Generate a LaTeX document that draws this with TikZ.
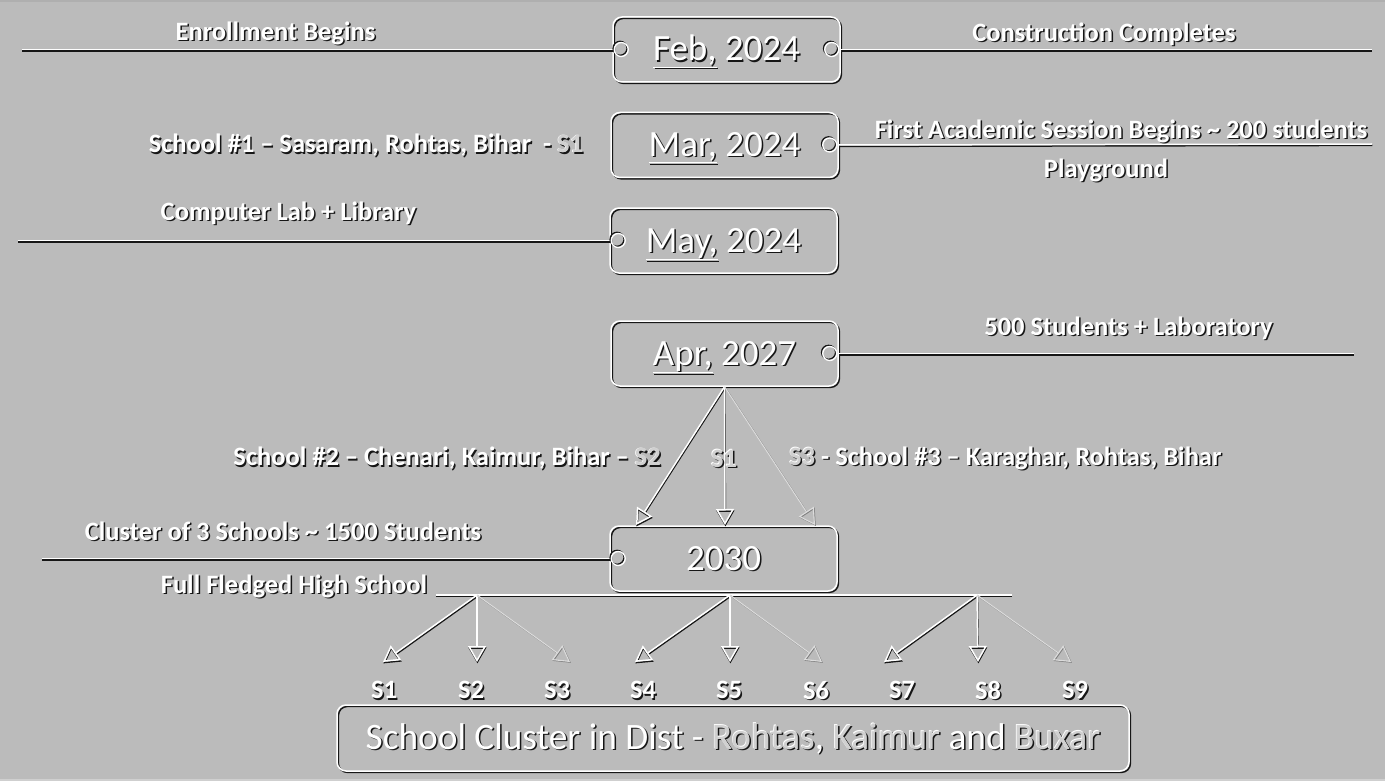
\documentclass[tikz,border=0pt]{standalone}
\usepackage{fontspec}
\setmainfont{Carlito}
\usetikzlibrary{arrows.meta}
\definecolor{bg}{HTML}{BBBBBB}
\definecolor{dk}{HTML}{161616}
\definecolor{lt}{HTML}{D0D0D0}
\definecolor{topc}{HTML}{AFAFAF}
\definecolor{botc}{HTML}{CFCFCF}
\definecolor{faint}{HTML}{DCDCDC}
\newcommand\emb[1]{\rlap{\kern1.5pt\raisebox{-1.5pt}{\color{dk}#1}}#1}
\newcommand\embc[2]{\rlap{\kern1.5pt\raisebox{-1.5pt}{\color{dk}#2}}\rlap{\kern-0.6pt\raisebox{0.6pt}{\color{white}#2}}{\color{#1}#2}}
\tikzset{
  lbl/.style={text=white, inner sep=0pt, font=\bfseries\fontsize{26.5}{30}\selectfont},
  datebox/.style={text=white, rounded corners=9pt, draw=white, line width=1.5pt,
    minimum width=227pt, minimum height=65pt, inner sep=0pt,
    text height=25pt, text depth=2pt,
    font=\fontsize{37}{42}\selectfont,
    preaction={draw=dk, line width=1.5pt, transform canvas={shift={(1.4pt,-1.4pt)}}}},
  port/.style={circle, draw=white, line width=1.3pt, minimum size=14pt, inner sep=0pt,
    preaction={draw=dk, line width=1.3pt, transform canvas={shift={(-1.2pt,1.2pt)}}}},
  ln/.style={draw=white, line width=1.5pt,
    preaction={draw=dk, line width=1.5pt, transform canvas={shift={(0.4pt,-1.4pt)}}}},
  arr/.style={ln, -{Triangle[open, length=16pt, width=18pt]}},
  arrf/.style={draw=faint, line width=1.1pt, -{Triangle[open, length=16pt, width=18pt]},
    preaction={draw=gray, line width=1.1pt, transform canvas={shift={(0.8pt,-0.8pt)}}}}
}
\begin{document}
\begin{tikzpicture}[x=1pt,y=-1pt]
\useasboundingbox (0,0) rectangle (1385,781);
\fill[bg] (0,0) rectangle (1385,781);
\fill[topc] (0,0) rectangle (1385,2.5);
\fill[botc] (0,778.5) rectangle (1385,781);

% date boxes
\node[datebox] (feb) at (726.5,49.5) {\emb{\underline{Feb,}}\ \emb{2024}};
\node[datebox] (mar) at (724.5,145) {\emb{\underline{Mar,}}\ \emb{2024}};
\node[datebox] (may) at (723.5,240.5) {\emb{\underline{May,}}\ \emb{2024}};
\node[datebox] (apr) at (724.5,353.5) {\emb{\underline{Apr,}}\ \emb{2027}};
\node[datebox] (y2030) at (723.5,558.5) {\emb{2030}};
\node[datebox, minimum width=792pt, minimum height=66pt, text height=24pt, text depth=2pt,
  font=\fontsize{37.3}{42}\selectfont] (clu) at (733,738)
  {\emb{School Cluster in Dist -}\ \embc{lt}{Rohtas}\emb{,}\ \embc{lt}{Kaimur}\ \emb{and}\ \embc{lt}{Buxar}};

% ports
\node[port] (febL) at ([xshift=9pt]feb.west) {};
\node[port] (febR) at ([xshift=-9pt]feb.east) {};
\node[port] (marR) at ([xshift=-9pt]mar.east) {};
\node[port] (mayL) at ([xshift=9pt]may.west) {};
\node[port] (aprR) at ([xshift=-9pt]apr.east) {};
\node[port] (y30L) at ([xshift=9pt]y2030.west) {};

% side lines
\coordinate (e1) at (22,49.5);
\coordinate (e2) at (1372,49.5);
\coordinate (e3) at (1372,144);
\coordinate (e4) at (18,240.5);
\coordinate (e5) at (1354,353.5);
\coordinate (e6) at (42,558.5);
\draw[ln] (e1) -- (feb.west);
\draw[ln] (feb.east) -- (e2);
\draw[ln] (mar.east) -- (e3);
\draw[ln] (e4) -- (may.west);
\draw[ln] (apr.east) -- (e5);
\draw[ln] (e6) -- (y2030.west);

% labels
\node[lbl] (l1) at (275.5,34) {\emb{Enrollment Begins}};
\node[lbl] (l2) at (1104,35) {\emb{Construction Completes}};
\node[lbl] (l3) at (366,146) {\emb{School \#1 – Sasaram, Rohtas, Bihar}\ \ \emb{-}\ \embc{lt}{S1}};
\node[lbl] (l4) at (1121,132) {\emb{First Academic Session Begins \textasciitilde{} 200 students}};
\node[lbl] (l5) at (1106,171) {\emb{Playground}};
\node[lbl] (l6) at (288.5,214) {\emb{Computer Lab + Library}};
\node[lbl] (l7) at (1128.5,329) {\emb{500 Students + Laboratory}};
\node[lbl] (l11) at (283,532) {\emb{Cluster of 3 Schools \textasciitilde{} 1500 Students}};
\node[lbl] (l12) at (294,587) {\emb{Full Fledged High School}};

% fan from Apr 2027 to 2030
\coordinate (a1) at (636,525);
\coordinate (a2) at (725,525);
\coordinate (a3) at (815,525);
\draw[arr] (apr.south) -- (a1);
\draw[arr] (apr.south) -- (a2);
\draw[arrf] (apr.south) -- (a3);
\node[lbl, anchor=east] (l8) at (661,459) {\emb{School \#2 – Chenari, Kaimur, Bihar –}\ \embc{lt}{S2}};
\node[lbl] (l9) at (724,459) {\embc{lt}{S1}};
\node[lbl, anchor=west] (l10) at (789,459) {\embc{lt}{S3}\ \emb{- School \#3 – Karaghar, Rohtas, Bihar}};

% bar and lower fans
\coordinate (b1) at (436,595);
\coordinate (b2) at (1012,595);
\draw[ln] (b1) -- (b2);
\coordinate (f1) at (477,595);
\coordinate (f2) at (730,595);
\coordinate (f3) at (977,595);
\foreach \i/\x in {1/383,2/477,3/570,4/635,5/730,6/822,7/884,8/978,9/1071} {
  \coordinate (t\i) at (\x,662);
}
\foreach \src/\ta/\tb/\tc in {f1/t1/t2/t3, f2/t4/t5/t6, f3/t7/t8/t9} {
  \draw[arr] (\src) -- (\ta);
  \draw[arr] (\src) -- (\tb);
  \draw[arrf] (\src) -- (\tc);
}
\foreach \i/\x in {1/384,2/471,3/557,4/643,5/729,6/816,7/902,8/988,9/1075} {
  \node[lbl] (s\i) at (\x,691) {\emb{S\i}};
}
\end{tikzpicture}
\end{document}
